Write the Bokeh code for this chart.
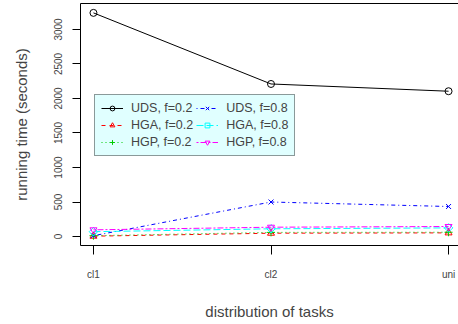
import math
from bokeh.plotting import figure
from bokeh.models import Range1d, FixedTicker, LinearAxis, Legend, LegendItem
from bokeh.embed import file_html
from bokeh.resources import INLINE

categories = ["cl1", "cl2", "uni"]
x_pos = [1, 2, 3]
y_ticks = [0, 500, 1000, 1500, 2000, 2500, 3000]

uds_02 = [3240, 2210, 2105]
hga_02 = [5, 48, 53]
hgp_02 = [12, 60, 62]
uds_08 = [12, 500, 435]
hga_08 = [70, 112, 125]
hgp_08 = [97, 135, 145]

labels = ["UDS, f=0.2", "HGA, f=0.2", "HGP, f=0.2", "UDS, f=0.8", "HGA, f=0.8", "HGP, f=0.8"]
series = [uds_02, hga_02, hgp_02, uds_08, hga_08, hgp_08]
colors = ["black", "red", "#00CD00", "blue", "cyan", "magenta"]
dashes = ["solid", "4 4", "1 3", "1 3 4 3", "7 3", "2 2 6 2"]
markers = ["circle", "triangle", "cross", "x", "square", "inverted_triangle"]
angles = [0, 0, 0, 0, math.pi / 4, 0]
sizes = [7, 7, 8, 7, 6, 7]

FONT = "Liberation Sans"

p = figure(width=458, height=324, output_backend="svg", toolbar_location=None,
           x_range=Range1d(0.927, 3.056), y_range=Range1d(-130, 3376),
           min_border_left=80, min_border_right=0, min_border_top=3, min_border_bottom=79)
p.outline_line_color = None
p.grid.visible = False

# axes
xa = p.xaxis[0]
xa.ticker = FixedTicker(ticks=x_pos)
xa.major_label_overrides = {x: c for x, c in zip(x_pos, categories)}
xa.minor_tick_line_color = None
xa.major_tick_out = 9
xa.major_tick_in = 0
xa.major_label_standoff = 14
xa.major_label_text_font = FONT
xa.major_label_text_font_size = "10px"
xa.axis_label = "distribution of tasks"
xa.axis_label_text_font = FONT
xa.axis_label_text_font_size = "15px"
xa.axis_label_text_font_style = "normal"
xa.axis_label_standoff = 20

ya = p.yaxis[0]
ya.ticker = FixedTicker(ticks=y_ticks)
ya.minor_tick_line_color = None
ya.major_tick_out = 8
ya.major_tick_in = 0
ya.major_label_standoff = 10
ya.major_label_orientation = "vertical"
ya.major_label_text_font = FONT
ya.major_label_text_font_size = "10px"
ya.axis_label = "running time (seconds)"
ya.axis_label_text_font = FONT
ya.axis_label_text_font_size = "15px"
ya.axis_label_text_font_style = "normal"
ya.axis_label_standoff = 22

top = LinearAxis(ticker=FixedTicker(ticks=[]), major_tick_out=0, major_tick_in=0,
                 minor_tick_out=0, minor_tick_in=0, major_label_text_font_size="0px",
                 major_label_standoff=0, axis_line_color="black")
p.add_layout(top, "above")

items = []
for lab, ys, c, d, m, a, s in zip(labels, series, colors, dashes, markers, angles, sizes):
    r1 = p.line(x_pos, ys, line_color=c, line_dash=d, line_width=1)
    r2 = p.scatter(x_pos, ys, marker=m, size=s, angle=a, line_color=c, fill_color=None,
                   fill_alpha=0, line_width=1)
    items.append(LegendItem(label=lab, renderers=[r1, r2]))

legend = Legend(items=items, ncols=2, location=(14, 89),
                background_fill_color="#E0FFFF", background_fill_alpha=1,
                border_line_color="#333333", border_line_width=1,
                label_text_font=FONT, label_text_font_size="12.5px",
                glyph_width=22, glyph_height=12, label_height=12,
                spacing=3, padding=6, label_standoff=8, margin=0)
p.add_layout(legend, "center")

open("out.html", "w").write(file_html(p, INLINE))
